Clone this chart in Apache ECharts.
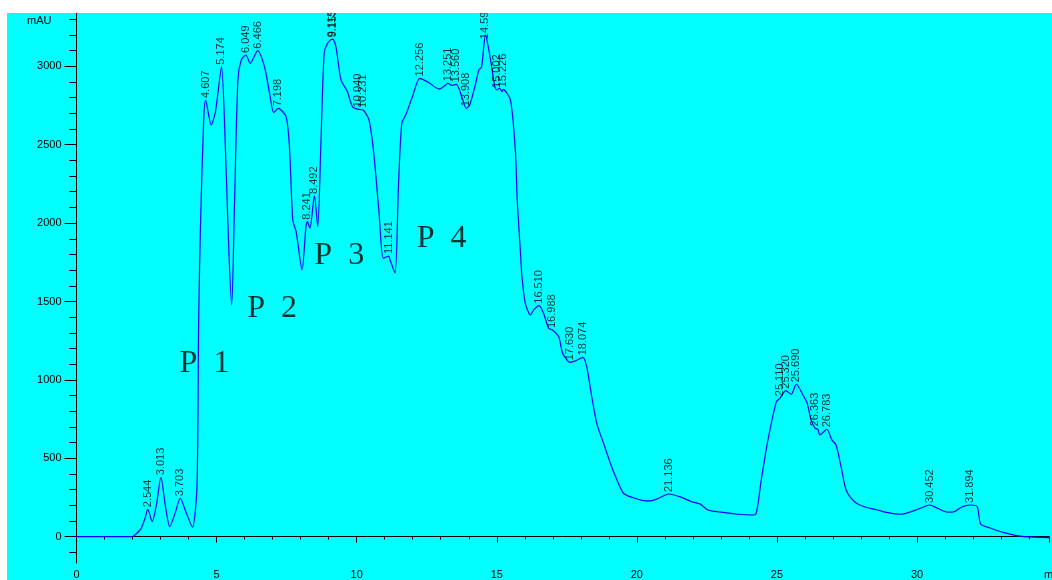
<!DOCTYPE html>
<html>
<head>
<meta charset="utf-8">
<script src="https://cdn.jsdelivr.net/npm/echarts@6/dist/echarts.min.js"></script>
<style>html,body{margin:0;padding:0;background:#fff;}#c{width:1052px;height:580px;}</style>
</head>
<body>
<div id="c"></div>
<script>
// Chromatogram trace (retention time in min, absorbance in mAU)
const traceTimes = [0, 2.0, 2.08, 2.3, 2.45, 2.544, 2.70, 2.85, 3.013, 3.17, 3.33, 3.52, 3.703, 3.9, 4.14, 4.30, 4.36, 4.43, 4.54, 4.607, 4.81, 4.96, 5.174, 5.32, 5.44, 5.54, 5.64, 5.76, 5.88, 6.049, 6.20, 6.466, 6.71, 6.89, 7.04, 7.198, 7.48, 7.60, 7.72, 7.84, 8.05, 8.19, 8.241, 8.33, 8.492, 8.61, 8.73, 8.84, 8.96, 9.115, 9.153, 9.26, 9.44, 9.67, 9.85, 10.040, 10.231, 10.44, 10.61, 10.80, 10.95, 11.141, 11.19, 11.37, 11.49, 11.61, 11.75, 11.99, 12.256, 12.58, 12.94, 13.17, 13.251, 13.40, 13.560, 13.77, 13.908, 14.03, 14.22, 14.36, 14.46, 14.596, 14.78, 14.93, 15.002, 15.10, 15.19, 15.226, 15.49, 15.67, 15.73, 15.84, 15.90, 16.02, 16.20, 16.32, 16.510, 16.67, 16.85, 16.988, 17.21, 17.35, 17.56, 17.630, 17.85, 18.074, 18.21, 18.39, 18.57, 18.81, 19.10, 19.34, 19.52, 19.82, 20.23, 20.47, 20.77, 21.136, 21.59, 21.95, 22.25, 22.54, 23.02, 23.61, 24.09, 24.26, 24.44, 24.68, 24.98, 25.110, 25.320, 25.51, 25.690, 25.93, 26.08, 26.22, 26.363, 26.46, 26.53, 26.783, 26.96, 27.11, 27.29, 27.47, 27.77, 28.12, 28.59, 28.95, 29.42, 29.90, 30.26, 30.452, 30.73, 31.08, 31.32, 31.62, 31.894, 32.15, 32.27, 32.63, 33.10, 33.82, 34.71];
const traceValues = [0, 0, 11, 50, 120, 175, 96, 200, 379, 200, 64, 150, 245, 160, 60, 319, 1382, 2019, 2657, 2785, 2626, 2710, 2997, 2447, 1809, 1478, 2127, 2912, 3040, 3072, 3019, 3100, 2997, 2830, 2704, 2732, 2679, 2487, 2020, 1945, 1701, 1977, 2009, 1967, 2173, 1977, 2551, 3083, 3147, 3172, 3172, 3125, 2913, 2838, 2742, 2726, 2721, 2658, 2445, 2063, 1776, 1790, 1765, 1680, 2232, 2637, 2689, 2806, 2923, 2895, 2855, 2880, 2892, 2878, 2885, 2796, 2732, 2752, 2870, 2976, 2997, 3200, 3040, 2870, 2849, 2860, 2838, 2853, 2785, 2445, 2147, 1828, 1658, 1488, 1414, 1446, 1473, 1425, 1329, 1318, 1276, 1170, 1116, 1112, 1125, 1144, 1084, 893, 723, 596, 446, 341, 277, 251, 230, 228, 245, 272, 251, 223, 209, 170, 156, 143, 138, 149, 362, 617, 861, 883, 931, 908, 972, 904, 851, 744, 691, 685, 649, 685, 617, 585, 446, 298, 223, 191, 170, 153, 143, 166, 191, 202, 181, 156, 159, 191, 202, 191, 81, 54, 26, 0, -6];

// Integrated peak labels and the trace height at each peak
const peakLabels = ["2.544", "3.013", "3.703", "4.607", "5.174", "6.049", "6.466", "7.198", "8.241", "8.492", "9.115", "9.153", "10.040", "10.231", "11.141", "12.256", "13.251", "13.560", "13.908", "14.596", "15.002", "15.226", "16.510", "16.988", "17.630", "18.074", "21.136", "25.110", "25.320", "25.690", "26.363", "26.783", "30.452", "31.894"];
const peakHeights = [175, 379, 245, 2785, 2997, 3072, 3100, 2732, 2009, 2173, 3172, 3172, 2726, 2721, 1790, 2923, 2892, 2885, 2732, 3160, 2849, 2853, 1473, 1318, 1112, 1144, 272, 883, 931, 972, 691, 685, 202, 202];

// Fraction annotations
const fractionNames = ["P  1", "P  2", "P  3", "P  4"];
const fractionTimes = [3.68, 6.09, 8.49, 12.14];
const fractionValues = [1000, 1350, 1688, 1797];

const yLabelTicks = [0, 500, 1000, 1500, 2000, 2500, 3000];
const yMinorTicks = [-100, 0, 100, 200, 300, 400, 500, 600, 700, 800, 900, 1000, 1100, 1200, 1300, 1400, 1500, 1600, 1700, 1800, 1900, 2000, 2100, 2200, 2300, 2400, 2500, 2600, 2700, 2800, 2900, 3000, 3100, 3200, 3300];

const chart = echarts.init(document.getElementById('c'), null, {renderer: 'canvas'});
const FONT = '"Liberation Sans", Arial, sans-serif';
const Y_MIN = -168, Y_MAX = 3340, X_MAX = 34.71;

chart.setOption({
  animation: false,
  backgroundColor: '#00ffff',
  graphic: [
    {type: 'rect', z: 100, zlevel: 0, shape: {x: 0, y: 0, width: 1052, height: 13}, style: {fill: '#ffffff'}},
    {type: 'rect', z: 100, zlevel: 0, shape: {x: 0, y: 0, width: 7, height: 580}, style: {fill: '#ffffff'}},
    {type: 'text', z: 100, left: 1044, top: 569, style: {text: 'min', fill: '#000', font: '11px "Liberation Sans", Arial, sans-serif'}}
  ],
  grid: {left: 76.5, right: 0, top: 13, bottom: 17, containLabel: false},
  xAxis: {
    type: 'value', min: 0, max: X_MAX, interval: 5,
    axisLine: {lineStyle: {color: '#000', width: 1}},
    axisTick: {length: 6, lineStyle: {color: '#000'}},
    minorTick: {show: true, splitNumber: 5, length: 3, lineStyle: {color: '#000'}},
    axisLabel: {color: '#000', fontFamily: FONT, fontSize: 11, margin: 6,
      formatter: v => (Math.abs(v % 5) < 1e-9 ? String(v) : '')},
    splitLine: {show: false}
  },
  yAxis: [
    {
      type: 'value', min: Y_MIN, max: Y_MAX, position: 'left',
      name: 'mAU', nameLocation: 'end', nameGap: -8,
      nameTextStyle: {color: '#000', fontFamily: FONT, fontSize: 11, align: 'right', verticalAlign: 'middle', padding: [0, 25, 0, 0]},
      axisLine: {show: true, lineStyle: {color: '#000', width: 1}},
      axisTick: {show: true, length: 12, customValues: yLabelTicks, lineStyle: {color: '#000'}},
      axisLabel: {color: '#000', fontFamily: FONT, fontSize: 11, margin: 15, customValues: yLabelTicks,
        formatter: v => String(v)},
      splitLine: {show: false}
    },
    {
      type: 'value', min: Y_MIN, max: Y_MAX, position: 'left', offset: 0,
      axisLine: {show: false},
      axisTick: {show: true, length: 7, customValues: yMinorTicks, lineStyle: {color: '#000'}},
      axisLabel: {show: false},
      splitLine: {show: false}
    }
  ],
  series: [
    {
      type: 'line', yAxisIndex: 0,
      data: traceTimes.map((t, i) => [t, traceValues[i]]),
      showSymbol: false, symbol: 'none', smooth: 0.25,
      lineStyle: {color: '#0000ff', width: 1.2},
      z: 3
    },
    {
      type: 'scatter', yAxisIndex: 0, symbolSize: 0, silent: true,
      data: peakLabels.map((s, i) => ({value: [parseFloat(s), peakHeights[i]], name: s})),
      label: {
        show: true, position: 'top', distance: 2, rotate: 90,
        align: 'left', verticalAlign: 'middle',
        formatter: p => p.name, color: '#000', fontFamily: FONT, fontSize: 11
      },
      z: 4
    },
    {
      type: 'scatter', yAxisIndex: 0, symbolSize: 0, silent: true,
      data: fractionNames.map((s, i) => ({value: [fractionTimes[i], fractionValues[i]], name: s})),
      label: {
        show: true, position: 'inside', align: 'left', verticalAlign: 'bottom',
        formatter: p => p.name, color: '#000', fontFamily: '"Liberation Serif", "Times New Roman", serif', fontSize: 32
      },
      z: 4
    }
  ]
});
</script>
</body>
</html>
